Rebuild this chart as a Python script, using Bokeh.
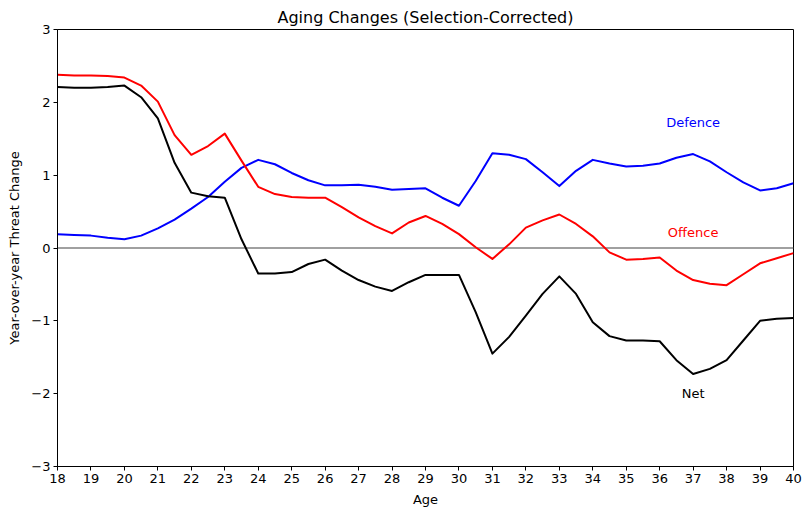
from bokeh.plotting import figure
from bokeh.models import Range1d, FixedTicker, Span, ColumnDataSource
from bokeh.core.properties import value
from bokeh.embed import file_html
from bokeh.resources import INLINE

# ---- data ----
ages = [18, 18.5, 19, 19.5, 20, 20.5, 21, 21.5, 22, 22.5, 23, 23.5, 24, 24.5, 25,
        25.5, 26, 26.5, 27, 27.5, 28, 28.5, 29, 29.5, 30, 30.5, 31, 31.5, 32, 32.5,
        33, 33.5, 34, 34.5, 35, 35.5, 36, 36.5, 37, 37.5, 38, 38.5, 39, 39.5, 40]

defence = [0.19, 0.18, 0.17, 0.14, 0.12, 0.17, 0.27, 0.39, 0.54, 0.70, 0.91, 1.10,
           1.21, 1.15, 1.03, 0.93, 0.86, 0.86, 0.87, 0.84, 0.80, 0.81, 0.82, 0.69,
           0.58, 0.92, 1.30, 1.28, 1.22, 1.04, 0.85, 1.06, 1.21, 1.16, 1.12, 1.13,
           1.16, 1.24, 1.29, 1.19, 1.04, 0.90, 0.79, 0.82, 0.89]

offence = [2.38, 2.37, 2.37, 2.36, 2.34, 2.23, 2.01, 1.55, 1.28, 1.40, 1.57, 1.20,
           0.84, 0.74, 0.70, 0.69, 0.69, 0.56, 0.42, 0.30, 0.20, 0.35, 0.44, 0.33,
           0.19, 0.01, -0.15, 0.05, 0.28, 0.38, 0.46, 0.33, 0.16, -0.06, -0.16, -0.15,
           -0.13, -0.31, -0.44, -0.49, -0.51, -0.36, -0.21, -0.14, -0.07]

net = [2.21, 2.20, 2.20, 2.21, 2.23, 2.07, 1.78, 1.17, 0.76, 0.71, 0.69, 0.12,
       -0.35, -0.35, -0.33, -0.22, -0.16, -0.31, -0.44, -0.53, -0.59, -0.47, -0.37, -0.37,
       -0.37, -0.88, -1.45, -1.22, -0.93, -0.63, -0.39, -0.63, -1.02, -1.21, -1.27, -1.27,
       -1.28, -1.54, -1.73, -1.66, -1.54, -1.27, -1.00, -0.97, -0.96]

x_ticks = [18, 19, 20, 21, 22, 23, 24, 25, 26, 27, 28, 29, 30, 31, 32, 33, 34, 35,
           36, 37, 38, 39, 40]
y_ticks = [-3, -2, -1, 0, 1, 2, 3]
y_tick_labels = ["\u22123", "\u22122", "\u22121", "0", "1", "2", "3"]

label_text = ["Defence", "Offence", "Net"]
label_x = [37, 37, 37]
label_y = [1.72, 0.21, -2.0]
label_colors = ["blue", "red", "black"]

FONT = "DejaVu Sans"

p = figure(frame_width=736, frame_height=437, output_backend="svg",
           toolbar_location=None,
           x_range=Range1d(18, 40), y_range=Range1d(-3, 3),
           min_border_left=57, min_border_right=10, min_border_top=29,
           min_border_bottom=0)

p.title.text = "Aging Changes (Selection-Corrected)"
p.title.align = "center"
p.title.text_font = FONT
p.title.text_font_size = "16px"
p.title.text_font_style = "normal"
p.title.text_color = "black"
p.title.standoff = 6

p.xgrid.visible = False
p.ygrid.visible = False
p.outline_line_color = "black"
p.outline_line_width = 1
p.background_fill_color = "white"
p.border_fill_color = "white"

for ax in (p.xaxis[0], p.yaxis[0]):
    ax.axis_line_color = "black"
    ax.major_tick_line_color = "black"
    ax.major_tick_out = 4
    ax.major_tick_in = 0
    ax.minor_tick_line_color = None
    ax.major_label_text_font = FONT
    ax.major_label_text_font_size = "13px"
    ax.major_label_text_color = "black"
    ax.axis_label_text_font = FONT
    ax.axis_label_text_font_size = "13px"
    ax.axis_label_text_font_style = "normal"
    ax.axis_label_text_color = "black"
    ax.major_label_standoff = 3

p.xaxis[0].ticker = FixedTicker(ticks=x_ticks)
p.yaxis[0].ticker = FixedTicker(ticks=y_ticks)
p.yaxis[0].major_label_overrides = {t: l for t, l in zip(y_ticks, y_tick_labels)}
p.xaxis[0].axis_label = "Age"
p.yaxis[0].axis_label = "Year-over-year Threat Change"
p.xaxis[0].axis_label_standoff = 6
p.yaxis[0].axis_label_standoff = 6

zero = Span(location=0, dimension="width", line_color="#808080", line_width=1.5,
            level="underlay")
p.add_layout(zero)

src = ColumnDataSource(dict(age=ages, defence=defence, offence=offence, net=net))
p.line("age", "defence", source=src, line_color="blue", line_width=2,
       line_join="round")
p.line("age", "offence", source=src, line_color="red", line_width=2,
       line_join="round")
p.line("age", "net", source=src, line_color="black", line_width=2,
       line_join="round")

lab = ColumnDataSource(dict(x=label_x, y=label_y, t=label_text, c=label_colors))
p.text(x="x", y="y", text="t", text_color="c", source=lab,
       text_font=value(FONT), text_font_size="13px",
       text_align="center", text_baseline="middle")

open("out.html", "w").write(file_html(p, INLINE))
